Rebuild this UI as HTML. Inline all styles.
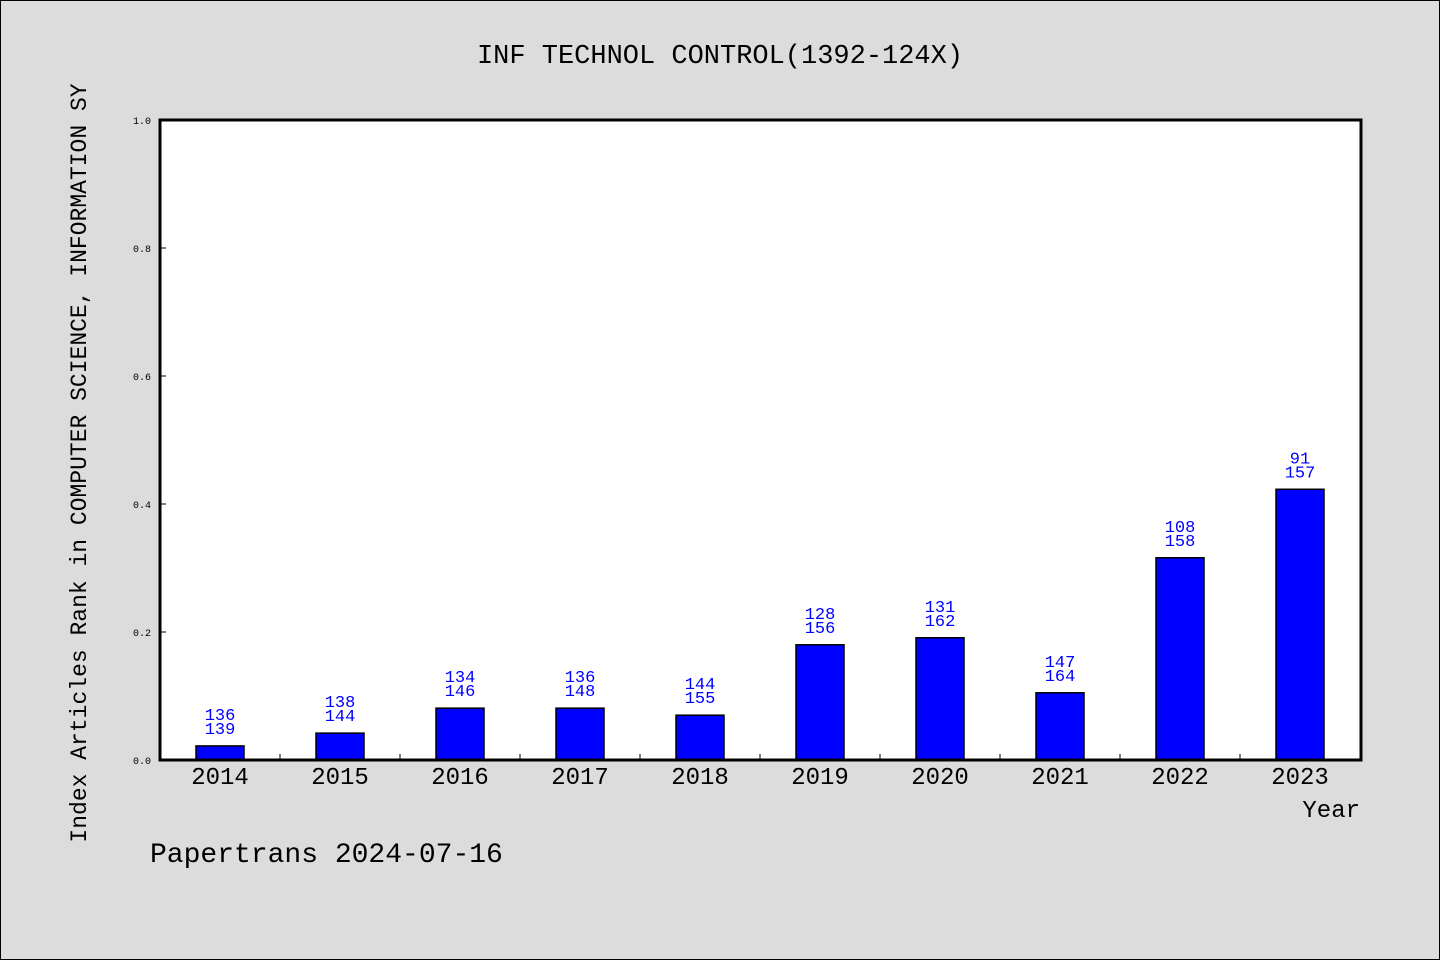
<!DOCTYPE html>
<html><head><meta charset="utf-8"><style>
body{margin:0;background:#dcdcdc}
svg{display:block}
text{font-family:"Liberation Mono","DejaVu Sans Mono",monospace}
</style></head><body>
<svg id="chart" width="1440" height="960">
<rect x="0.5" y="0.5" width="1439" height="959" fill="#dcdcdc" stroke="#000"/>
<text x="720" y="63" text-anchor="middle" font-size="27">INF TECHNOL CONTROL(1392-124X)</text>
<rect x="160" y="120" width="1201" height="640" fill="#fff"/>
<g id="bars"></g>
<g id="yticks"></g>
<g id="xticks"></g>
<rect x="160" y="120" width="1201" height="640" fill="none" stroke="#000" stroke-width="3"/>
<text x="1360" y="817" text-anchor="end" font-size="24">Year</text>
<text transform="translate(86,463) rotate(-90)" text-anchor="middle" font-size="23">Index Articles Rank in COMPUTER SCIENCE, INFORMATION SY</text>
<text x="150" y="862" font-size="28">Papertrans 2024-07-16</text>
</svg>
<script>
const years=["2014","2015","2016","2017","2018","2019","2020","2021","2022","2023"];
const values=[0.022,0.042,0.081,0.081,0.070,0.180,0.191,0.105,0.316,0.423];
const rankTop=["136","138","134","136","144","128","131","147","108","91"];
const rankBottom=["139","144","146","148","155","156","162","164","158","157"];
const yTicks=[0,0.2,0.4,0.6,0.8,1.0];
const NS="http://www.w3.org/2000/svg";
const x0=160,slot=120,y0=760,h=640;
const xc=i=>x0+slot*i+slot/2;
const ys=v=>y0-v*h;
function mk(t,a){const e=document.createElementNS(NS,t);for(const k in a)e.setAttribute(k,a[k]);return e;}
const bars=document.getElementById('bars'),yt=document.getElementById('yticks'),xt=document.getElementById('xticks');
years.forEach((yr,i)=>{
  const r=mk('rect',{x:xc(i)-24,y:ys(values[i]),width:48,height:y0-ys(values[i]),fill:'#0000ff',stroke:'#000','stroke-width':1.5});
  
  
  bars.appendChild(r);
  const t1=mk('text',{x:xc(i),y:ys(values[i])-26,'text-anchor':'middle','font-size':17,fill:'#0000ff'});t1.textContent=rankTop[i];
  
  
  bars.appendChild(t1);
  const t2=mk('text',{x:xc(i),y:ys(values[i])-12,'text-anchor':'middle','font-size':17,fill:'#0000ff'});t2.textContent=rankBottom[i];
  
  
  bars.appendChild(t2);
  const xl=mk('text',{x:xc(i),y:784,'text-anchor':'middle','font-size':24});xl.textContent=yr;
  
  
  xt.appendChild(xl);
  if(i>0){const tk=mk('line',{x1:x0+slot*i,x2:x0+slot*i,y1:754,y2:760,stroke:'#000','stroke-width':1});
  
  
  xt.appendChild(tk);}
});
yTicks.forEach(v=>{
  const l=mk('text',{x:151,y:ys(v)+4,'text-anchor':'end','font-size':10});l.textContent=v.toFixed(1);
  
  
  yt.appendChild(l);
  const tk=mk('line',{x1:160,x2:166,y1:ys(v),y2:ys(v),stroke:'#000','stroke-width':1});
  
  
  yt.appendChild(tk);
});
</script>
</body></html>
